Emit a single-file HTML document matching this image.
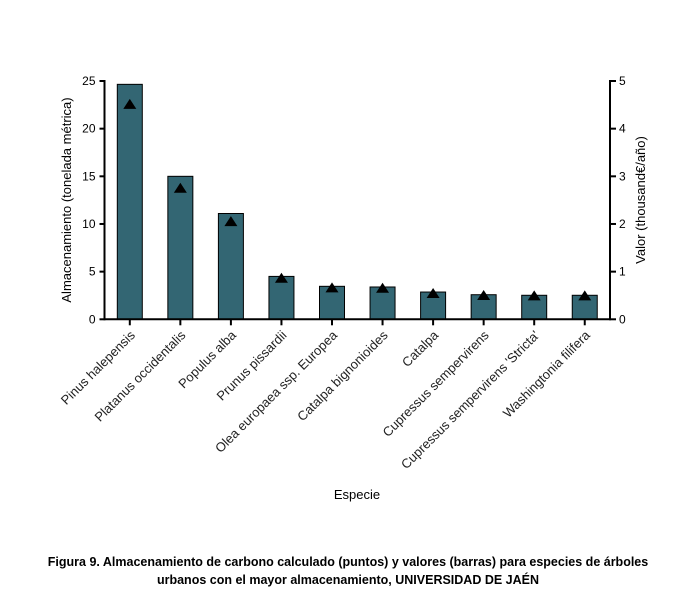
<!DOCTYPE html>
<html><head><meta charset="utf-8"><style>
body{margin:0;background:#fff;}
svg{display:block;font-family:"Liberation Sans","DejaVu Sans",sans-serif;}
</style></head><body>
<svg width="696" height="614" viewBox="0 0 696 614">
<g id="plot"></g>
<text x="348" y="566" text-anchor="middle" font-size="12.5" font-weight="bold" fill="#000">Figura 9. Almacenamiento de carbono calculado (puntos) y valores (barras) para especies de árboles</text>
<text x="348" y="584" text-anchor="middle" font-size="12.5" font-weight="bold" fill="#000">urbanos con el mayor almacenamiento, UNIVERSIDAD DE JAÉN</text>
</svg>
<script>
const categories = ["Pinus halepensis","Platanus occidentalis","Populus alba","Prunus pissardii","Olea europaea ssp. Europea","Catalpa bignonioides","Catalpa","Cupressus sempervirens","Cupressus sempervirens 'Stricta'","Washingtonia filifera"];
const barValues = [24.65, 15.0, 11.1, 4.5, 3.46, 3.39, 2.86, 2.58, 2.52, 2.52];
const pointValues = [4.50, 2.74, 2.04, 0.85, 0.65, 0.64, 0.53, 0.49, 0.48, 0.48];
const leftTicks = [0,5,10,15,20,25];
const rightTicks = [0,1,2,3,4,5];

const NS="http://www.w3.org/2000/svg";
const g=document.getElementById('plot');
const X0=104.5, X1=610, Y0=319.3, Y1=81;
const leftMax=25, rightMax=5;
const yL=v=>Y0-(v/leftMax)*(Y0-Y1);
const yR=v=>Y0-(v/rightMax)*(Y0-Y1);
const step=50.55, first=129.8;
const xC=i=>first+i*step;
function mk(t,a){const e=document.createElementNS(NS,t);for(const k in a)e.setAttribute(k,a[k]);g.appendChild(e);return e;}

barValues.forEach((v,i)=>{
  const r=mk('rect',{x:xC(i)-12.5,y:yL(v),width:25,height:Y0-yL(v),fill:'#336673',stroke:'#000','stroke-width':1});
  
  
});
pointValues.forEach((v,i)=>{
  const cx=xC(i), cy=yR(v);
  const p=mk('polygon',{points:`${cx},${cy-6} ${cx-6.5},${cy+4} ${cx+6.5},${cy+4}`,fill:'#000'});
  
  
});
// axes
let a=mk('line',{x1:X0,y1:Y0,x2:X1,y2:Y0,stroke:'#000','stroke-width':2});


a=mk('line',{x1:X0,y1:Y1-1,x2:X0,y2:Y0+1,stroke:'#000','stroke-width':2});


a=mk('line',{x1:X1,y1:Y1-1,x2:X1,y2:Y0+1,stroke:'#000','stroke-width':2});


leftTicks.forEach(t=>{
  mk('line',{x1:X0-5,y1:yL(t),x2:X0,y2:yL(t),stroke:'#000','stroke-width':2});
  const tx=mk('text',{x:X0-9,y:yL(t)+4,'text-anchor':'end','font-size':12,fill:'#000'});
  tx.textContent=t;
  
  
});
rightTicks.forEach(t=>{
  mk('line',{x1:X1,y1:yR(t),x2:X1+6,y2:yR(t),stroke:'#000','stroke-width':2});
  const tx=mk('text',{x:X1+9,y:yR(t)+4,'text-anchor':'start','font-size':12,fill:'#000'});
  tx.textContent=t;
  
  
});
categories.forEach((c,i)=>{
  const x=xC(i);
  mk('line',{x1:x,y1:Y0,x2:x,y2:Y0+6,stroke:'#000','stroke-width':2});
  const tx=mk('text',{x:x+6,y:336,'text-anchor':'end','font-size':13,fill:'#222',transform:`rotate(-45 ${x+6} 336)`});
  tx.textContent=c;
  
  
});
let t=mk('text',{x:0,y:0,'text-anchor':'middle','font-size':13,fill:'#000',transform:'translate(71 200) rotate(-90)'});
t.textContent='Almacenamiento (tonelada métrica)';


t=mk('text',{x:0,y:0,'text-anchor':'middle','font-size':13,fill:'#000',transform:'translate(645 200) rotate(-90)'});
t.textContent='Valor (thousand€/año)';


t=mk('text',{x:357,y:499,'text-anchor':'middle','font-size':13,fill:'#000'});
t.textContent='Especie';


</script>
</body></html>
